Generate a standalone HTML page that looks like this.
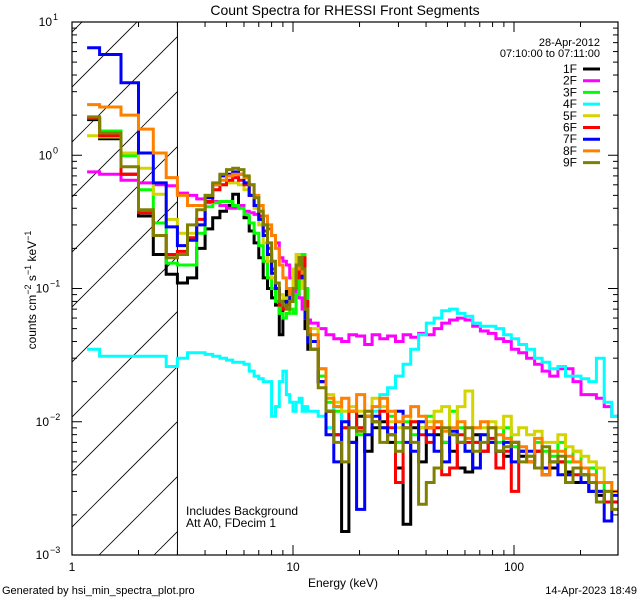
<!DOCTYPE html>
<html><head><meta charset="utf-8"><style>
html,body{margin:0;padding:0;background:#fff;}
svg{display:block;font-family:"Liberation Sans",sans-serif;}
</style></head><body>
<svg id="chart" width="640" height="600" viewBox="0 0 640 600" xmlns="http://www.w3.org/2000/svg">
<rect width="640" height="600" fill="#fff"/>
<text x="345" y="15" font-size="14" text-anchor="middle">Count Spectra for RHESSI Front Segments</text>
<g id="plot"></g>
<text x="343" y="587" font-size="12" text-anchor="middle">Energy (keV)</text>
<text transform="translate(36,290) rotate(-90)" font-size="12" text-anchor="middle">counts cm<tspan dy="-5" font-size="9">−2</tspan><tspan dy="5"> s</tspan><tspan dy="-5" font-size="9">−1</tspan><tspan dy="5"> keV</tspan><tspan dy="-5" font-size="9">−1</tspan></text>
<text x="2" y="594" font-size="11">Generated by hsi_min_spectra_plot.pro</text>
<text x="637" y="594" font-size="11" text-anchor="end">14-Apr-2023 18:49</text>
<text x="186" y="515" font-size="12">Includes Background</text>
<text x="186" y="527" font-size="12">Att A0, FDecim 1</text>
<text x="600" y="46" font-size="11" text-anchor="end">28-Apr-2012</text>
<text x="600" y="57" font-size="11" text-anchor="end">07:10:00 to 07:11:00</text>
</svg>
<script>
const seriesNames = ["1F","2F","3F","4F","5F","6F","7F","8F","9F"];
const seriesColors = ["#000000","#ff00ff","#00ff00","#00ffff","#d4d400","#ff0000","#0000ff","#ff8000","#808000"];
const xTickLabels = ["1","10","100"];
const xTickValues = [1,10,100];
const yTickExps = [1,0,-1,-2,-3];
// energy bin edges (keV)
const lowEdges = [1.17,1.333,1.667,2,2.333,2.667,3,3.333,3.667,4,4.333,4.667,5,5.333,5.667,6,6.333,6.667,7,7.333,7.667,8,8.333,8.667,9,9.333,9.667,10,10.333,10.667,11,11.333,11.667,12];
const highEdges = [12,13.0,14.1,15.3,16.6,17.9,19.4,21.1,22.8,24.7,26.8,29.1,31.5,34.1,37.0,40.1,43.5,47.1,51.1,55.4,60.0,65.0,70.5,76.4,82.8,89.7,97.2,105,114,124,134,145,158,171,185,201,218,236,256,277,296];
// counts per bin (low: 33 bins, high: 40 bins)
const s1F = [1.85,1.33,0.72,0.35,0.18,0.128,0.11,0.12,0.2,0.28,0.34,0.38,0.42,0.51,0.42,0.34,0.27,0.22,0.17,0.12,0.1,0.085,0.075,0.045,0.08,0.095,0.09,0.12,0.15,0.17,0.1,0.05,0.035,
 0.035,0.02,0.012,0.008,0.0015,0.007,0.011,0.006,0.009,0.01,0.007,0.0045,0.0017,0.009,0.005,0.009,0.008,0.007,0.006,0.0045,0.0042,0.008,0.006,0.007,0.006,0.0055,0.007,0.0055,0.005,0.006,0.004,0.0045,0.005,0.0042,0.0035,0.004,0.003,0.0028,0.0025,0.0025];
const s2F = [0.75,0.72,0.65,0.62,0.60,0.59,0.52,0.50,0.47,0.44,0.45,0.42,0.40,0.40,0.42,0.38,0.37,0.36,0.33,0.30,0.28,0.25,0.22,0.17,0.16,0.15,0.12,0.1,0.09,0.085,0.07,0.06,0.058,
 0.055,0.05,0.045,0.042,0.04,0.045,0.044,0.038,0.045,0.042,0.044,0.04,0.045,0.043,0.046,0.045,0.05,0.055,0.058,0.06,0.058,0.052,0.048,0.046,0.042,0.04,0.035,0.033,0.03,0.027,0.024,0.022,0.025,0.025,0.02,0.016,0.016,0.015,0.013,0.011];
const s3F = [1.9,1.52,0.99,0.55,0.31,0.155,0.15,0.15,0.26,0.41,0.44,0.45,0.45,0.42,0.40,0.36,0.31,0.26,0.21,0.16,0.12,0.1,0.08,0.065,0.06,0.065,0.07,0.065,0.09,0.13,0.18,0.1,0.05,
 0.04,0.022,0.014,0.012,0.009,0.012,0.008,0.011,0.01,0.009,0.011,0.007,0.01,0.008,0.009,0.011,0.01,0.007,0.012,0.009,0.006,0.007,0.008,0.007,0.007,0.009,0.0065,0.006,0.0055,0.007,0.006,0.0055,0.007,0.005,0.006,0.004,0.0045,0.0035,0.003,0.003];
const s4F = [0.035,0.031,0.031,0.031,0.031,0.026,0.030,0.033,0.033,0.032,0.031,0.030,0.029,0.028,0.028,0.027,0.024,0.022,0.021,0.020,0.020,0.011,0.013,0.02,0.024,0.016,0.014,0.012,0.014,0.015,0.012,0.013,0.012,
 0.012,0.011,0.009,0.013,0.01,0.012,0.009,0.011,0.012,0.016,0.018,0.022,0.027,0.035,0.045,0.055,0.06,0.068,0.07,0.065,0.062,0.055,0.052,0.052,0.05,0.045,0.042,0.038,0.035,0.03,0.028,0.025,0.026,0.022,0.022,0.021,0.02,0.03,0.014,0.011];
const s5F = [1.4,1.37,1.04,0.8,0.51,0.33,0.26,0.26,0.3,0.45,0.55,0.6,0.62,0.62,0.6,0.55,0.5,0.4,0.3,0.22,0.16,0.12,0.1,0.09,0.085,0.08,0.1,0.14,0.18,0.15,0.1,0.06,0.045,
 0.05,0.025,0.016,0.014,0.012,0.013,0.012,0.012,0.015,0.013,0.01,0.009,0.011,0.01,0.009,0.01,0.012,0.013,0.008,0.013,0.017,0.009,0.009,0.01,0.009,0.011,0.008,0.009,0.008,0.0085,0.007,0.007,0.008,0.0065,0.006,0.0055,0.005,0.0045,0.0035,0.003];
const s6F = [1.9,1.4,0.72,0.37,0.25,0.18,0.19,0.24,0.33,0.45,0.55,0.6,0.65,0.68,0.65,0.6,0.5,0.42,0.35,0.27,0.2,0.14,0.1,0.075,0.07,0.075,0.08,0.1,0.12,0.15,0.17,0.08,0.045,
 0.04,0.02,0.012,0.008,0.009,0.012,0.009,0.011,0.01,0.012,0.009,0.0035,0.009,0.01,0.008,0.007,0.009,0.004,0.0045,0.008,0.007,0.007,0.006,0.0075,0.0045,0.006,0.003,0.006,0.005,0.006,0.0045,0.005,0.005,0.004,0.004,0.0035,0.0035,0.003,0.0025,0.0025];
const s7F = [6.4,5.7,3.5,1.04,0.62,0.29,0.21,0.23,0.3,0.48,0.6,0.7,0.72,0.75,0.72,0.62,0.5,0.42,0.33,0.25,0.18,0.13,0.1,0.08,0.075,0.08,0.09,0.1,0.14,0.17,0.12,0.06,0.04,
 0.04,0.02,0.008,0.005,0.01,0.007,0.0022,0.008,0.011,0.009,0.008,0.012,0.007,0.006,0.01,0.008,0.006,0.005,0.0085,0.007,0.006,0.0045,0.008,0.007,0.006,0.007,0.005,0.006,0.006,0.0045,0.0045,0.005,0.004,0.004,0.0045,0.0035,0.003,0.003,0.0018,0.0028];
const s8F = [2.4,2.3,2.0,1.57,1.04,0.68,0.5,0.42,0.42,0.5,0.6,0.65,0.7,0.72,0.72,0.68,0.6,0.5,0.42,0.35,0.3,0.25,0.2,0.15,0.12,0.1,0.09,0.1,0.14,0.17,0.13,0.07,0.05,
 0.045,0.025,0.015,0.013,0.015,0.012,0.016,0.011,0.013,0.015,0.012,0.01,0.011,0.013,0.011,0.009,0.01,0.0085,0.009,0.01,0.0075,0.009,0.01,0.009,0.008,0.0075,0.007,0.0065,0.005,0.0075,0.004,0.006,0.006,0.0055,0.005,0.0045,0.004,0.0035,0.0035,0.003];
const s9F = [1.94,1.47,0.82,0.39,0.25,0.17,0.18,0.3,0.39,0.5,0.62,0.72,0.78,0.8,0.78,0.7,0.6,0.48,0.38,0.3,0.22,0.16,0.11,0.08,0.075,0.07,0.08,0.1,0.15,0.17,0.14,0.07,0.045,
 0.035,0.018,0.012,0.007,0.005,0.009,0.0085,0.012,0.01,0.007,0.008,0.006,0.009,0.007,0.0024,0.0035,0.0045,0.009,0.008,0.007,0.009,0.006,0.007,0.009,0.006,0.0065,0.007,0.005,0.0055,0.0045,0.0065,0.005,0.0055,0.0035,0.0045,0.004,0.0035,0.0025,0.003,0.0022];
const seriesValues = [s1F,s2F,s3F,s4F,s5F,s6F,s7F,s8F,s9F];

const NS = "http://www.w3.org/2000/svg";
const L = 72, R = 618, T = 22, B = 555;
const xDec = 221, yDec = (B - T) / 4;
function xScale(e){ return L + Math.log10(e) * xDec; }
function yScale(v){ return T + (1 - Math.log10(v)) * yDec; }
const plot = document.getElementById("plot");
function mk(tag, attrs, parent){ const el = document.createElementNS(NS, tag); for (const k in attrs) el.setAttribute(k, attrs[k]); (parent||plot).appendChild(el); return el; }

const defs = mk("defs", {});
const cp = mk("clipPath", {id:"pc"}, defs);
mk("rect", {x:L, y:T, width:R-L, height:B-T}, cp);
const hc = mk("clipPath", {id:"hc"}, defs);
mk("rect", {x:L, y:T, width:xScale(3)-L, height:B-T}, hc);

const hatch = mk("g", {"clip-path":"url(#hc)"});


for (let x0 = 99 - 55*12; x0 < 200; x0 += 55) {
  mk("line", {x1:x0, y1:B, x2:x0 + 600, y2:B - 600, stroke:"#000", "stroke-width":0.8}, hatch);
}
const vline = mk("line", {x1:xScale(3), y1:T, x2:xScale(3), y2:B, stroke:"#000", "stroke-width":1});



const edges = lowEdges.concat(highEdges.slice(1));
const sg = mk("g", {"clip-path":"url(#pc)"});
seriesValues.forEach((vals, si) => {
  let d = "";
  const n = Math.min(vals.length, edges.length - 1);
  for (let i = 0; i < n; i++) {
    const x1 = xScale(edges[i]), x2 = xScale(edges[i+1]), y = yScale(vals[i]);
    d += (i === 0 ? "M" : "L") + x1.toFixed(1) + "," + y.toFixed(1) + "L" + x2.toFixed(1) + "," + y.toFixed(1);
  }
  const p = mk("path", {d:d, fill:"none", stroke:seriesColors[si], "stroke-width":3, "stroke-linejoin":"miter"}, sg);
  
  
});

const frame = mk("rect", {x:L, y:T, width:R-L, height:B-T, fill:"none", stroke:"#000", "stroke-width":1.2});



for (let dec = 0; dec <= 2; dec++) {
  for (let m = 1; m <= 9; m++) {
    const e = m * Math.pow(10, dec);
    const x = xScale(e);
    if (x > R) break;
    const len = m === 1 ? 10 : 5;
    mk("line", {x1:x, y1:B, x2:x, y2:B-len, stroke:"#000"});
    mk("line", {x1:x, y1:T, x2:x, y2:T+len, stroke:"#000"});
  }
}
xTickValues.forEach((v, i) => {
  const t = mk("text", {x:xScale(v), y:B+16, "font-size":12, "text-anchor":"middle"});
  t.textContent = xTickLabels[i];
  
  
});
for (let ex = -3; ex < 1; ex++) {
  for (let m = 1; m <= 9; m++) {
    const y = yScale(m * Math.pow(10, ex));
    const len = m === 1 ? 10 : 5;
    mk("line", {x1:L, y1:y, x2:L+len, y2:y, stroke:"#000"});
    mk("line", {x1:R, y1:y, x2:R-len, y2:y, stroke:"#000"});
  }
}
yTickExps.forEach(ex => {
  const y = yScale(Math.pow(10, ex));
  const t = mk("text", {x:ex < 0 ? 49 : 52, y:y + 4, "font-size":12, "text-anchor":"end"});
  t.textContent = "10";
  
  
  const s = mk("text", {x:ex < 0 ? 50 : 53, y:y - 2, "font-size":9});
  s.textContent = ex < 0 ? "−" + (-ex) : String(ex);
  
  
});

seriesNames.forEach((nm, i) => {
  const y = 69 + i * 11.7;
  const t = mk("text", {x:577, y:y + 4, "font-size":12, "text-anchor":"end"});
  t.textContent = nm;
  
  
  const l = mk("line", {x1:583, y1:y, x2:600, y2:y, stroke:seriesColors[i], "stroke-width":3});
  
  
});
</script>
</body></html>
